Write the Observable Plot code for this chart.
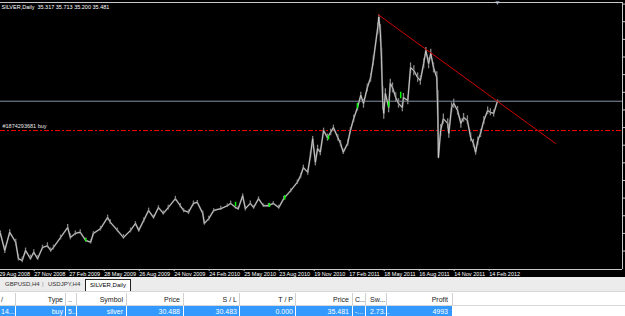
<!DOCTYPE html>
<html><head><meta charset="utf-8">
<script src="https://cdn.jsdelivr.net/npm/d3@7"></script>
<script src="https://cdn.jsdelivr.net/npm/@observablehq/plot@0.6"></script>
<style>
html,body{margin:0;padding:0;background:#fff;overflow:hidden;width:625px;height:316px;}
#chart svg{display:block;overflow:hidden;}
#tabs{position:relative;height:14px;background:#ececec;font-family:"Liberation Sans",Arial,sans-serif;font-size:6px;color:#333;}
#tabs span{position:absolute;top:4px;white-space:nowrap;}
#tabs .active{top:2px;height:12px;background:#fff;border:1px solid #222;border-bottom:none;box-sizing:border-box;padding:2px 4px 0 4px;color:#000;}
#grid{position:relative;height:25px;font-family:"Liberation Sans",Arial,sans-serif;font-size:7px;}
#grid .hdr{position:absolute;left:0;top:0;width:625px;height:15px;background:#fff;border-top:1px solid #d8d8d8;border-bottom:1px solid #d8d8d8;box-sizing:border-box;}
#grid .row{position:absolute;left:0;top:15px;width:452px;height:12px;background:#3399ff;}
#grid span{position:absolute;white-space:nowrap;}
#grid .sep{position:absolute;width:1px;background:#d0d0d0;}
</style></head><body>
<div id="chart"></div>
<div id="tabs"></div>
<div id="grid"><div class="hdr"></div><div class="row"></div></div>
<script>
// ---- data ----
const symbol = "SILVER,Daily";
const ohlc = ["35.317", "35.713", "35.200", "35.481"];
const tickLabels = ["29 Aug 2008","27 Nov 2008","27 Feb 2009","28 May 2009","26 Aug 2009","24 Nov 2009","24 Feb 2010","25 May 2010","23 Aug 2010","19 Nov 2010","17 Feb 2011","18 May 2011","16 Aug 2011","14 Nov 2011","14 Feb 2012"];
const tickBars = [0,64,128,192,256,320,384,448,512,576,640,704,768,832,896];
const priceTicks = [10,13,16,19,22,25,28,31,34,37,40,43,46,49,52];
// bar number (trading days since 29 Aug 2008), close, low, high
const barNo = [4,12,21,32,37,44,50,59,65,72,81,90,96,101,114,127,132,141,150,160,169,174,187,200,205,218,229,242,251,257,266,275,284,293,302,311,324,333,339,348,357,364,374,377,385,394,407,419,425,434,439,447,452,461,467,476,485,494,503,513,522,535,547,553,558,566,571,575,580,584,589,595,602,608,613,621,626,631,639,644,650,657,663,668,675,681,686,694,696,699,701,703,705,708,714,717,721,727,732,739,741,749,754,760,767,772,778,782,787,791,796,802,804,805,809,814,822,824,829,833,840,846,851,858,864,869,873,877,882,888,895,900,906,913];
const price = [13.0,10.1,13.2,11.5,8.7,8.4,10.1,8.7,9.8,8.7,10.6,10.9,10.1,10.6,12.3,14.0,12.3,13.0,13.2,11.8,11.5,13.0,13.8,15.7,14.9,13.5,12.3,13.5,14.7,13.5,15.2,16.9,15.7,17.4,16.4,17.4,18.9,17.7,16.9,16.6,18.1,18.3,16.4,14.7,15.5,16.9,17.2,17.7,18.1,17.4,17.2,19.4,17.2,18.1,17.4,18.9,17.7,17.7,18.1,17.4,18.9,20.3,21.7,22.8,24.2,23.4,26.3,29.1,25.1,27.4,26.8,30.5,29.3,30.2,31.0,29.3,28.3,26.8,28.3,30.5,32.5,34.4,36.5,35.1,37.8,39.5,42.4,48.0,49.8,47.0,42.4,35.6,33.4,36.8,34.4,38.5,37.8,36.1,35.1,34.4,36.1,35.6,41.2,40.7,39.5,39.0,41.9,44.1,41.9,43.6,41.2,39.5,32.7,25.9,30.5,32.5,31.7,30.0,34.4,35.1,33.9,31.7,32.7,32.2,29.3,28.3,26.8,28.8,30.0,32.2,33.9,33.6,33.4,35.5];
const low = [12.4,9.6,12.5,10.9,8.3,8.0,9.5,8.4,9.3,8.4,10.2,10.5,9.8,10.2,11.9,13.5,11.9,12.6,12.8,11.5,11.2,12.6,13.4,15.2,14.5,13.2,12.0,13.1,14.3,13.2,14.8,16.5,15.4,17.0,16.1,17.0,18.5,17.3,16.5,16.2,17.7,17.9,16.0,14.4,15.1,16.5,16.9,17.4,17.8,17.1,16.9,18.9,16.8,17.8,17.1,18.5,17.4,17.4,17.8,17.1,18.6,19.9,21.3,22.3,23.7,22.9,25.7,28.3,24.5,26.8,26.2,29.8,28.7,29.6,30.4,28.7,27.7,26.4,27.8,29.9,31.9,33.8,35.7,34.3,37.1,38.7,41.5,46.8,48.5,45.5,40.5,34.0,32.4,35.6,33.5,37.5,36.9,35.3,34.3,33.7,35.3,34.9,40.2,39.8,38.7,38.2,41.0,43.2,41.0,42.7,40.3,38.5,31.0,25.9,29.5,31.6,30.8,29.2,33.5,34.3,33.1,30.9,31.9,31.5,28.6,27.6,26.3,28.0,29.3,31.5,33.2,33.0,32.8,35.2];
const high = [13.4,10.8,13.6,12.0,9.4,9.0,10.5,9.3,10.2,9.2,11.0,11.4,10.5,11.0,12.7,14.5,12.9,13.4,13.6,12.2,11.9,13.3,14.2,16.1,15.3,13.9,12.8,13.9,15.0,13.9,15.6,17.3,16.1,17.7,16.8,17.8,19.3,18.1,17.2,17.0,18.5,18.6,16.8,15.2,15.9,17.2,17.6,18.0,18.5,17.8,17.6,19.7,17.6,18.5,17.7,19.2,18.0,18.1,18.4,17.8,19.3,20.6,22.1,23.2,24.6,23.9,26.9,29.5,25.9,28.0,27.4,30.9,29.9,30.7,31.4,29.8,28.8,27.3,28.9,31.0,33.1,35.0,37.0,35.8,38.4,40.2,43.2,48.8,50.2,48.5,44.5,38.0,34.8,37.6,35.3,39.2,38.6,36.9,35.9,35.2,36.8,36.4,42.0,41.5,40.3,39.8,42.7,44.6,42.8,44.3,42.0,40.5,37.3,30.0,31.5,33.3,32.5,31.0,35.2,35.8,34.6,32.5,33.4,33.0,30.1,29.0,27.6,29.4,30.7,32.9,34.5,34.2,34.0,35.7];
const greenBar = [160,434,496,524,604,657,714,736];
const greenLow = [11.6,17.6,17.4,18.7,28.9,34.2,34.4,35.9];
const greenHigh = [12.1,18.3,18.1,19.4,29.6,35.1,35.4,37.0];
const trendBar = [695,1019];
const trendPrice = [50.2,28.3];
const bid = 35.481;
const orderPrice = 30.488;
const orderLabel = "#1874293681 buy";
const tabNames = ["GBPUSD,H4","USDJPY,H4","SILVER,Daily"];
const headers = ["/","Type","..","Symbol","Price","S / L","T / P","Price","C...","Sw...","Profit"];
const rowVals = ["14...","buy","5...","silver","30.488","30.483","0.000","35.481","-...","2.73...","4993"];

// ---- chart ----
const bars = barNo.map((b,i)=>({b, p: price[i], lo: low[i], hi: high[i]}));
const greens = greenBar.map((b,i)=>({b, lo: greenLow[i], hi: greenHigh[i]}));
const trend = trendBar.map((b,i)=>({b, p: trendPrice[i]}));
const xDom = [4.2, 1141.6], yDom = [6.86, 52.27];

const chart = Plot.plot({
  width: 625, height: 277,
  marginLeft: 0, marginRight: 3, marginTop: 2, marginBottom: 8,
  x: {type: "linear", domain: xDom, label: null},
  y: {type: "linear", domain: yDom, label: null},
  style: {background: "#000", color: "#fff", fontFamily: "'Liberation Sans', Arial, sans-serif", fontSize: "5.5px", overflow: "hidden"},
  marks: [
    Plot.ruleY([orderPrice], {stroke: "#ff0000", strokeWidth: 1, strokeDasharray: "5,2,2,2"}),
    Plot.ruleY([bid], {stroke: "#8593a5", strokeWidth: 1}),
    Plot.ruleX(bars, {x: "b", y1: "lo", y2: "hi", stroke: "#8a8a8a", strokeWidth: 1.3}),
    Plot.line(bars, {x: "b", y: "p", stroke: "#5c5c5c", strokeWidth: 1.8}),
    Plot.line(bars, {x: "b", y: "p", stroke: "#d2d2d2", strokeWidth: 0.9}),
    Plot.ruleX(greens, {x: "b", y1: "lo", y2: "hi", stroke: "#00ff00", strokeWidth: 1.5}),
    Plot.line(trend, {x: "b", y: "p", stroke: "#d00000", strokeWidth: 1}),
    Plot.text([orderLabel], {frameAnchor: "left", x: xDom[0], y: orderPrice, text: d => d, textAnchor: "start", dx: 2, dy: -4, fill: "#e8e8e8", fontSize: 5.5}),
    Plot.text([`${symbol}  ${ohlc.join(" ")}`], {frameAnchor: "top-left", text: d => d, dx: 1, dy: 3, fill: "#fff", fontSize: 5.5}),
    Plot.dot([barNo[barNo.length-1]], {x: d => d, frameAnchor: "top", symbol: "triangle", r: 1.6, fill: "#8fa3c0", rotate: 180}),
    Plot.ruleY([yDom[1]], {stroke: "#c8c8c8"}),
    Plot.ruleY([yDom[0]], {stroke: "#c8c8c8"}),
    Plot.ruleX([xDom[1]], {stroke: "#c8c8c8"}),
    Plot.axisX({ticks: tickBars, label: null, tickFormat: d => tickLabels[tickBars.indexOf(d)], tickSize: 2, tickPadding: 1, textAnchor: "start", dx: 1, stroke: "#c8c8c8", fill: "#fff", fontSize: 5.5}),
    Plot.axisY({anchor: "right", label: null, ticks: priceTicks, tickSize: 2, tickFormat: () => "", stroke: "#c8c8c8"})
  ]
});
document.getElementById("chart").appendChild(chart);

// ---- tabs ----
const tabs = document.getElementById("tabs");
const tabLeft = [5, 48, 85];
tabNames.forEach((t,i)=>{
  const s = document.createElement("span");
  s.textContent = t; s.style.left = tabLeft[i] + "px";
  if (i === tabNames.length-1) s.className = "active";
  tabs.appendChild(s);
});
const bar = document.createElement("span"); bar.textContent = "|"; bar.style.left = "42px"; bar.style.color="#888"; tabs.appendChild(bar);

// ---- grid ----
const grid = document.getElementById("grid");
const colRight = [null, 63, null, 123, 180, 237, 293, 349, null, null, 448];
const colLeft = [1, null, 68, null, null, null, null, null, 355, 370, null];
const seps = [15, 65, 76, 126, 183, 239, 295, 352, 365, 386, 452];
function put(txt, i, top, color){
  const s = document.createElement("span");
  s.textContent = txt; s.style.top = top + "px"; s.style.color = color;
  if (colRight[i] !== null) { s.style.right = (625 - colRight[i]) + "px"; }
  else s.style.left = colLeft[i] + "px";
  grid.appendChild(s);
}
headers.forEach((h,i)=>put(h, i, 5, "#222"));
rowVals.forEach((v,i)=>put(v, i, 17, "#fff"));
seps.forEach(x=>{
  const a = document.createElement("div"); a.className="sep"; a.style.left=x+"px"; a.style.top="2px"; a.style.height="12px"; grid.appendChild(a);
  const b = document.createElement("div"); b.className="sep"; b.style.left=x+"px"; b.style.top="15px"; b.style.height="12px"; b.style.background="#ffffff"; grid.appendChild(b);
});
</script>
</body></html>
